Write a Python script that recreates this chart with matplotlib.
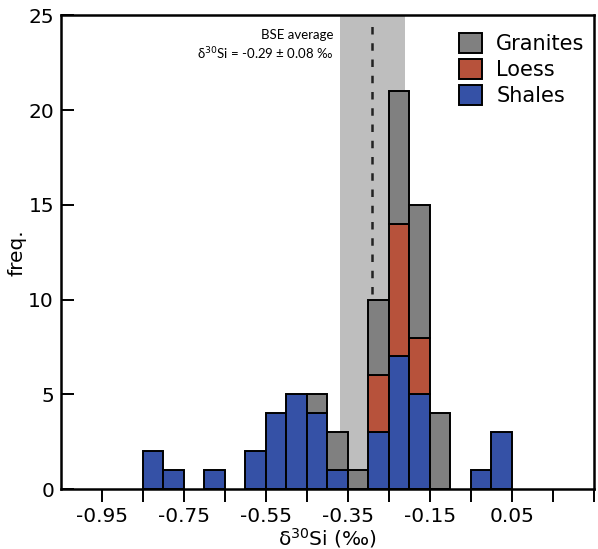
import numpy as np
import matplotlib
matplotlib.use("Agg")
import matplotlib.pyplot as plt
from matplotlib.patches import Patch

# Data
bin_left = [-0.85, -0.80, -0.75, -0.70, -0.65, -0.60, -0.55, -0.50, -0.45,
            -0.40, -0.35, -0.30, -0.25, -0.20, -0.15, -0.10, -0.05, 0.00]
shales   = [2, 1, 0, 1, 0, 2, 4, 5, 4, 1, 0, 3, 7, 5, 0, 0, 1, 3]
loess    = [0, 0, 0, 0, 0, 0, 0, 0, 0, 0, 0, 3, 7, 3, 0, 0, 0, 0]
granites = [0, 0, 0, 0, 0, 0, 0, 0, 1, 2, 1, 4, 7, 7, 4, 0, 0, 0]
bin_width = 0.05
bse_mean = -0.29
bse_err = 0.08
xtick_pos = [-0.95, -0.85, -0.75, -0.65, -0.55, -0.45, -0.35, -0.25, -0.15, -0.05, 0.05, 0.15, 0.25]
xtick_lab = ["-0.95", "", "-0.75", "", "-0.55", "", "-0.35", "", "-0.15", "", "0.05", "", ""]

c_sh = "#3551a6"
c_lo = "#b7523b"
c_gr = "#808080"

fig = plt.figure(figsize=(5.98, 5.49), dpi=100)
ax = fig.add_axes([0.102, 0.109, 0.891, 0.863])

ax.axvspan(bse_mean - bse_err, bse_mean + bse_err, color="#bebebe", lw=0, zorder=0)
ax.plot([bse_mean, bse_mean], [0, 24.6], ls=(0, (3, 3.5)), color="#222222", lw=1.8, zorder=1)

sh = np.array(shales); lo = np.array(loess); gr = np.array(granites)
kw = dict(width=bin_width, align="edge", edgecolor="black", linewidth=1.4, zorder=2)
for x, s, l, g in zip(bin_left, sh, lo, gr):
    if s > 0:
        ax.bar(x, s, bottom=0, color=c_sh, **kw)
    if l > 0:
        ax.bar(x, l, bottom=s, color=c_lo, **kw)
    if g > 0:
        ax.bar(x, g, bottom=s + l, color=c_gr, **kw)

ax.set_xlim(-1.05, 0.25)
ax.set_ylim(0, 25)
ax.set_xticks(xtick_pos)
ax.set_xticklabels(xtick_lab)
ax.set_yticks([0, 5, 10, 15, 20, 25])
ax.tick_params(axis="x", direction="out", length=9, width=1.4, labelsize=14.5, pad=4)
ax.tick_params(axis="y", direction="in", length=9, width=1.4, labelsize=14.5, pad=5)
for sp in ax.spines.values():
    sp.set_linewidth(1.8)

ax.set_xlabel("δ$^{30}$Si (‰)", fontsize=14.5, labelpad=0)
ax.set_ylabel("freq.", fontsize=14.5, labelpad=1)

ax.text(-0.385, 24.3, "BSE average\nδ$^{30}$Si = -0.29 ± 0.08 ‰", ha="right", va="top",
        fontsize=9.5, linespacing=1.35, family="Lato")

handles = [Patch(facecolor=c_gr, edgecolor="black", lw=1.4, label="Granites"),
           Patch(facecolor=c_lo, edgecolor="black", lw=1.4, label="Loess"),
           Patch(facecolor=c_sh, edgecolor="black", lw=1.4, label="Shales")]
ax.legend(handles=handles, loc="upper right", frameon=False, fontsize=15,
          handlelength=1.1, handleheight=1.1, handletextpad=0.7, labelspacing=0.22,
          borderaxespad=0.3, bbox_to_anchor=(1.01, 0.993))

fig.savefig("out.png", dpi=100)
